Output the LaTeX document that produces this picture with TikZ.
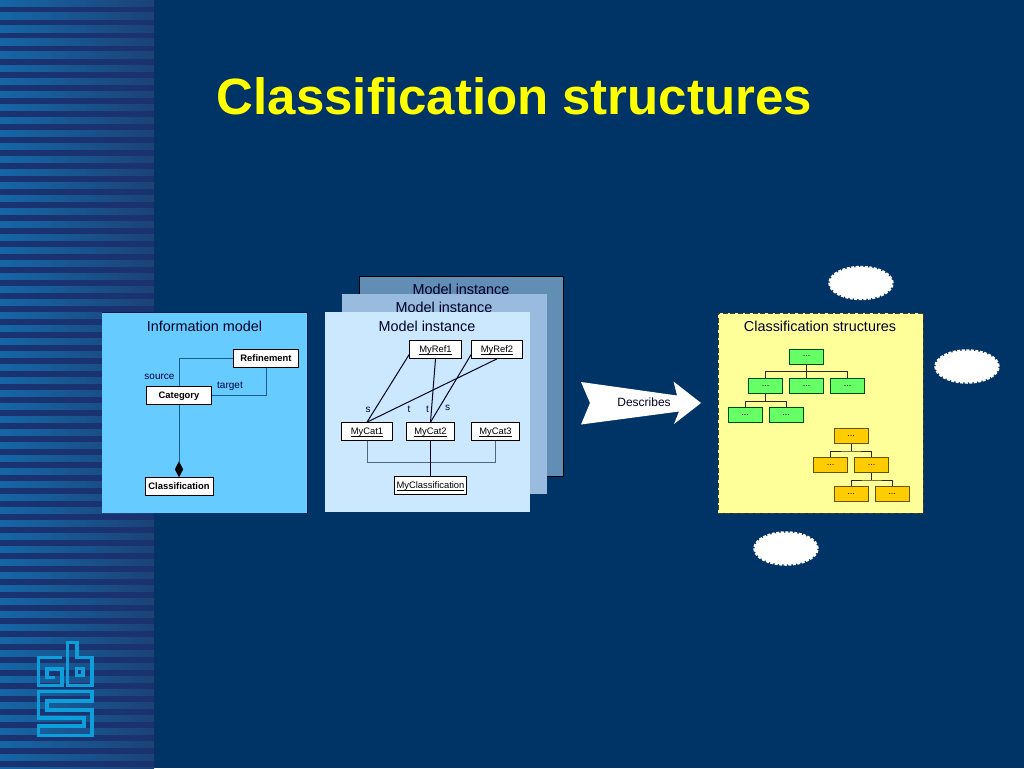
\documentclass[tikz,border=0pt]{standalone}
\usepackage{fontspec}
\setmainfont{Liberation Sans}
\usetikzlibrary{shapes.geometric,shapes.symbols,calc}
\definecolor{bgc}{HTML}{003366}
\definecolor{stripeD}{HTML}{1A3270}
\definecolor{stripeL}{HTML}{1566A6}
\definecolor{stripeR}{HTML}{1C4276}
\definecolor{logoc}{HTML}{0C9FDC}
\definecolor{lineb}{HTML}{1A5C8A}
\definecolor{busl}{HTML}{4A6A8C}
\definecolor{panelA}{HTML}{66CCFF}
\definecolor{panelB}{HTML}{CCE8FF}
\definecolor{panelC}{HTML}{99BBDD}
\definecolor{panelD}{HTML}{628DB5}
\definecolor{panelY}{HTML}{FFFF99}
\definecolor{grn}{HTML}{66FF66}
\definecolor{org}{HTML}{FFCC00}
\newcommand{\ulin}[1]{\leavevmode\setbox0\hbox{#1}\rlap{\rule[-1.3pt]{\wd0}{0.55pt}}\box0}
\tikzset{
 umlbox/.style={draw=black,fill=white,line width=0.7pt,minimum height=18pt,inner sep=0pt,text height=6.8pt,text depth=0pt,font=\fontsize{9.4}{11}\selectfont},
 umlbold/.style={umlbox,font=\bfseries\fontsize{9.4}{11}\selectfont},
 panel/.style={draw=black,line width=0.5pt,anchor=north west},
 ptitle/.style={font=\fontsize{14.4}{16}\selectfont,text=black!85!blue,inner sep=0pt},
 small/.style={font=\fontsize{10}{12}\selectfont,inner sep=0pt,text=black!75!blue},
 conn/.style={line width=1pt,draw=black!85!blue},
 softconn/.style={line width=1pt,draw=lineb},
 greenbox/.style={draw=black!70!green,fill=grn,line width=0.9pt,minimum width=34pt,minimum height=15pt,inner sep=0pt,font=\fontsize{9}{10}\selectfont},
 orangebox/.style={draw=black!60!org,fill=org,line width=1pt,minimum width=34pt,minimum height=15pt,inner sep=0pt,font=\fontsize{9}{10}\selectfont},
 treeline/.style={line width=0.9pt,draw=black!80!org},
 cloudb/.style={ellipse,fill=white,draw=white,dash pattern=on 3pt off 1.5pt,line width=2.5pt,minimum width=63pt,minimum height=32pt,inner sep=0pt},
 logoline/.style={draw=logoc,line width=3.6pt,line join=miter}
}
\begin{document}
\begin{tikzpicture}[x=1pt,y=-1pt]
\useasboundingbox (0,0) rectangle (1024,768);
\fill[bgc] (0,0) rectangle (1024,768);
\fill[stripeD] (0,0) rectangle (154,768);
\foreach \i in {0,...,59}{
 \fill[left color=stripeL,right color=stripeR] (0,{\i*13}) rectangle (154,{\i*13+6.5});
}
% logo
\draw[logoline] (62,657.5) -- (38.5,657.5) -- (38.5,685.5) -- (62,685.5) -- (62,669) -- (47,669) -- (47,677.5) -- (55,677.5);
\draw[logoline] (67.5,642.5) -- (77,642.5) -- (77,657.5) -- (92,657.5) -- (92,685.5) -- (67.5,685.5) -- cycle;
\draw[logoline] (76.5,668.5) rectangle (83,675.5);
\draw[logoline] (38.5,691.5) -- (92,691.5) -- (92,701) -- (47,701) -- (47,710) -- (92,710) -- (92,735.5) -- (38.5,735.5) -- (38.5,726) -- (84,726) -- (84,718) -- (38.5,718) -- cycle;
% title
\node[font=\bfseries\fontsize{51}{56}\selectfont,text={rgb,255:red,255;green,255;blue,0},inner sep=0pt] (title) at (514.5,96) {Classification structures};
% information model
\fill[black!40!bgc] (102,312) rectangle (307.5,512.5);
\node[panel,draw=none,fill=panelA,minimum width=205pt,minimum height=200pt,inner sep=0pt] (im) at (102,312.5) {};
\node[ptitle] (imt) at (204.5,326) {Information model};
\node[umlbold,minimum width=65pt] (ref) at (266,358.5) {Refinement};
\node[umlbold,minimum width=65pt] (cat) at (179,395.5) {Category};
\node[umlbold,minimum width=68pt] (cls) at (179,486) {Classification};
\node[diamond,fill=black,draw=black,minimum width=8pt,minimum height=15pt,inner sep=0pt,anchor=south] (dia) at (179,477) {};
\draw[softconn] (cat.north) |- (ref.west);
\draw[softconn] (cat.east) -| (ref.south);
\draw[softconn] (cat.south) -- (dia.north);
\node[small] (src) at (159.5,377) {source};
\node[small] (tgt) at (230,386) {target};
% model instances
\node[panel,fill=panelD,minimum width=204pt,minimum height=200pt,inner sep=0pt] (m3) at (359,275.5) {};
\node[ptitle] (m3t) at (461,289.5) {Model instance};
\node[panel,draw=none,fill=panelC,minimum width=205pt,minimum height=200pt,inner sep=0pt] (m2) at (342,293.5) {};
\node[ptitle] (m2t) at (444,307.5) {Model instance};
\node[panel,draw=none,fill=panelB,minimum width=205pt,minimum height=200pt,inner sep=0pt] (m1) at (324.5,312) {};
\node[ptitle] (m1t) at (427,326) {Model instance};
\node[umlbox,minimum width=52pt] (r1) at (435.5,349.5) {\ulin{MyRef1}};
\node[umlbox,minimum width=51pt] (r2) at (497,349.5) {\ulin{MyRef2}};
\node[umlbox,minimum width=51pt] (c1) at (367,431.5) {\ulin{MyCat1}};
\node[umlbox,minimum width=48pt] (c2) at (430.5,431.5) {\ulin{MyCat2}};
\node[umlbox,minimum width=48pt] (c3) at (495.5,431.5) {\ulin{MyCat3}};
\node[umlbox,minimum width=72pt] (mc) at (430.5,485.5) {\ulin{MyClassification}};
\draw[conn] ($(r1.west)+(0,5)$) -- (c1.north);
\draw[conn] (r2.south) -- (c1.north);
\draw[conn] (r1.south) -- (c2.north);
\draw[conn] ($(r2.west)+(0,5)$) -- (c2.north);
\coordinate (busa) at (367,462.5);
\coordinate (busb) at (495.5,462.5);
\draw[line width=1pt,draw=busl] (c1.south) -- (busa) -- (busb) -- (c3.south);
\draw[conn] (c2.south) -- (mc.north);
\node[small] (ls1) at (368,409.5) {s};
\node[small] (lt1) at (409,409) {t};
\node[small] (lt2) at (427.5,409) {t};
\node[small] (ls2) at (447.5,408) {s};
% arrow
\fill[white] (581,382) -- (677,395.5) -- (673.5,381.5) -- (701,403) -- (674,424) -- (679,411.5) -- (581,424.5) -- (590,403) -- cycle;
\node[font=\fontsize{12}{14}\selectfont,inner sep=0pt,text=black!85!blue] (desc) at (644,402.5) {Describes};
% classification structures panel
\node[panel,draw=black!75!panelY,dash pattern=on 5pt off 2.5pt,line width=0.9pt,fill=panelY,minimum width=205pt,minimum height=200pt,inner sep=0pt] (cs) at (717.5,312.5) {};
\node[ptitle] (cst) at (820,326) {Classification structures};
% green tree
\node[greenbox] (g0) at (806.5,356.5) {...};
\node[greenbox] (g1) at (765.5,386) {...};
\node[greenbox] (g2) at (806.5,386) {...};
\node[greenbox] (g3) at (847.5,386) {...};
\node[greenbox] (g4) at (745,415) {...};
\node[greenbox] (g5) at (786,415) {...};
\draw[treeline] (g0.south) -- (g2.north);
\draw[treeline] (g1.north) |- ($(g0.south)!0.5!(g2.north)$) -| (g3.north);
\draw[treeline] (g1.south) -- ++(0,7) coordinate (gm) (g4.north) |- (gm) -| (g5.north);
% orange tree
\node[orangebox] (o0) at (851,436) {...};
\node[orangebox] (o1) at (830.5,465) {...};
\node[orangebox] (o2) at (871.5,465) {...};
\node[orangebox] (o3) at (851,494) {...};
\node[orangebox] (o4) at (892,494) {...};
\draw[treeline] (o0.south) -- ++(0,7) coordinate (om);
\draw[treeline] (o1.north) |- (om) -| (o2.north);
\draw[treeline] (o2.south) -- ++(0,7) coordinate (pm);
\draw[treeline] (o3.north) |- (pm) -| (o4.north);
% clouds
\node[cloudb] (cl1) at (861,283) {};
\node[cloudb] (cl2) at (967,366.5) {};
\node[cloudb] (cl3) at (786,548.5) {};
\end{tikzpicture}
\end{document}
